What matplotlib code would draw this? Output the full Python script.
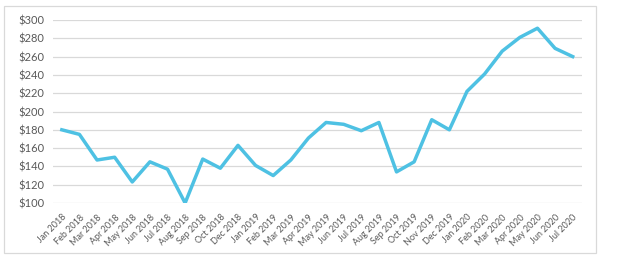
import matplotlib
matplotlib.use('Agg')
import matplotlib.pyplot as plt  # noqa
from matplotlib.patches import Rectangle
from matplotlib.ticker import FuncFormatter

# monthly values (note: no Nov 2018 in the source)
months = ["Jan 2018", "Feb 2018", "Mar 2018", "Apr 2018", "May 2018", "Jun 2018",
          "Jul 2018", "Aug 2018", "Sep 2018", "Oct 2018", "Dec 2018",
          "Jan 2019", "Feb 2019", "Mar 2019", "Apr 2019", "May 2019", "Jun 2019",
          "Jul 2019", "Aug 2019", "Sep 2019", "Oct 2019", "Nov 2019", "Dec 2019",
          "Jan 2020", "Feb 2020", "Mar 2020", "Apr 2020", "May 2020", "Jun 2020",
          "Jul 2020"]
prices = [180, 175, 147, 150, 123, 145, 137, 100, 148, 138, 163,
          141, 130, 147, 171, 188, 186, 179, 188, 134, 145, 191, 180,
          222, 241, 266, 281, 291, 269, 260]
y_ticks = [100, 120, 140, 160, 180, 200, 220, 240, 260, 280, 300]

W, H = 618, 260
LINE = "#4EC1E3"
GRID = "#D9D9D9"
TEXT = "#595959"

plt.rcParams['font.family'] = ['Lato', 'DejaVu Sans']

fig = plt.figure(figsize=(W / 100, H / 100), dpi=100)
ax = fig.add_axes([53 / W, 1 - 203 / H, (581.5 - 53) / W, (203 - 20) / H])

x = list(range(len(months)))
ax.plot(x, prices, color=LINE, lw=2.5, solid_joinstyle='round', zorder=3)

ax.set_xlim(-0.5, len(months) - 0.5)
ax.set_ylim(100, 300)
ax.set_yticks(y_ticks)
ax.yaxis.set_major_formatter(FuncFormatter(lambda v, p: "${:.0f}".format(v)))
ax.set_xticks(x)
ax.set_xticklabels(months, rotation=45, ha='right', rotation_mode='anchor')

ax.grid(axis='y', color=GRID, lw=0.9)
ax.set_axisbelow(True)
for s in ax.spines.values():
    s.set_visible(False)
ax.tick_params(axis='both', length=0, colors=TEXT)
ax.tick_params(axis='y', labelsize=8, pad=6)
ax.tick_params(axis='x', labelsize=6.5, pad=7)

# outer chart border
fig.patches.append(Rectangle((4 / W, 1 - 253 / H), 592 / W, 247 / H,
                             transform=fig.transFigure, fill=False,
                             edgecolor=GRID, lw=0.9))

fig.savefig("out.png", dpi=100)
